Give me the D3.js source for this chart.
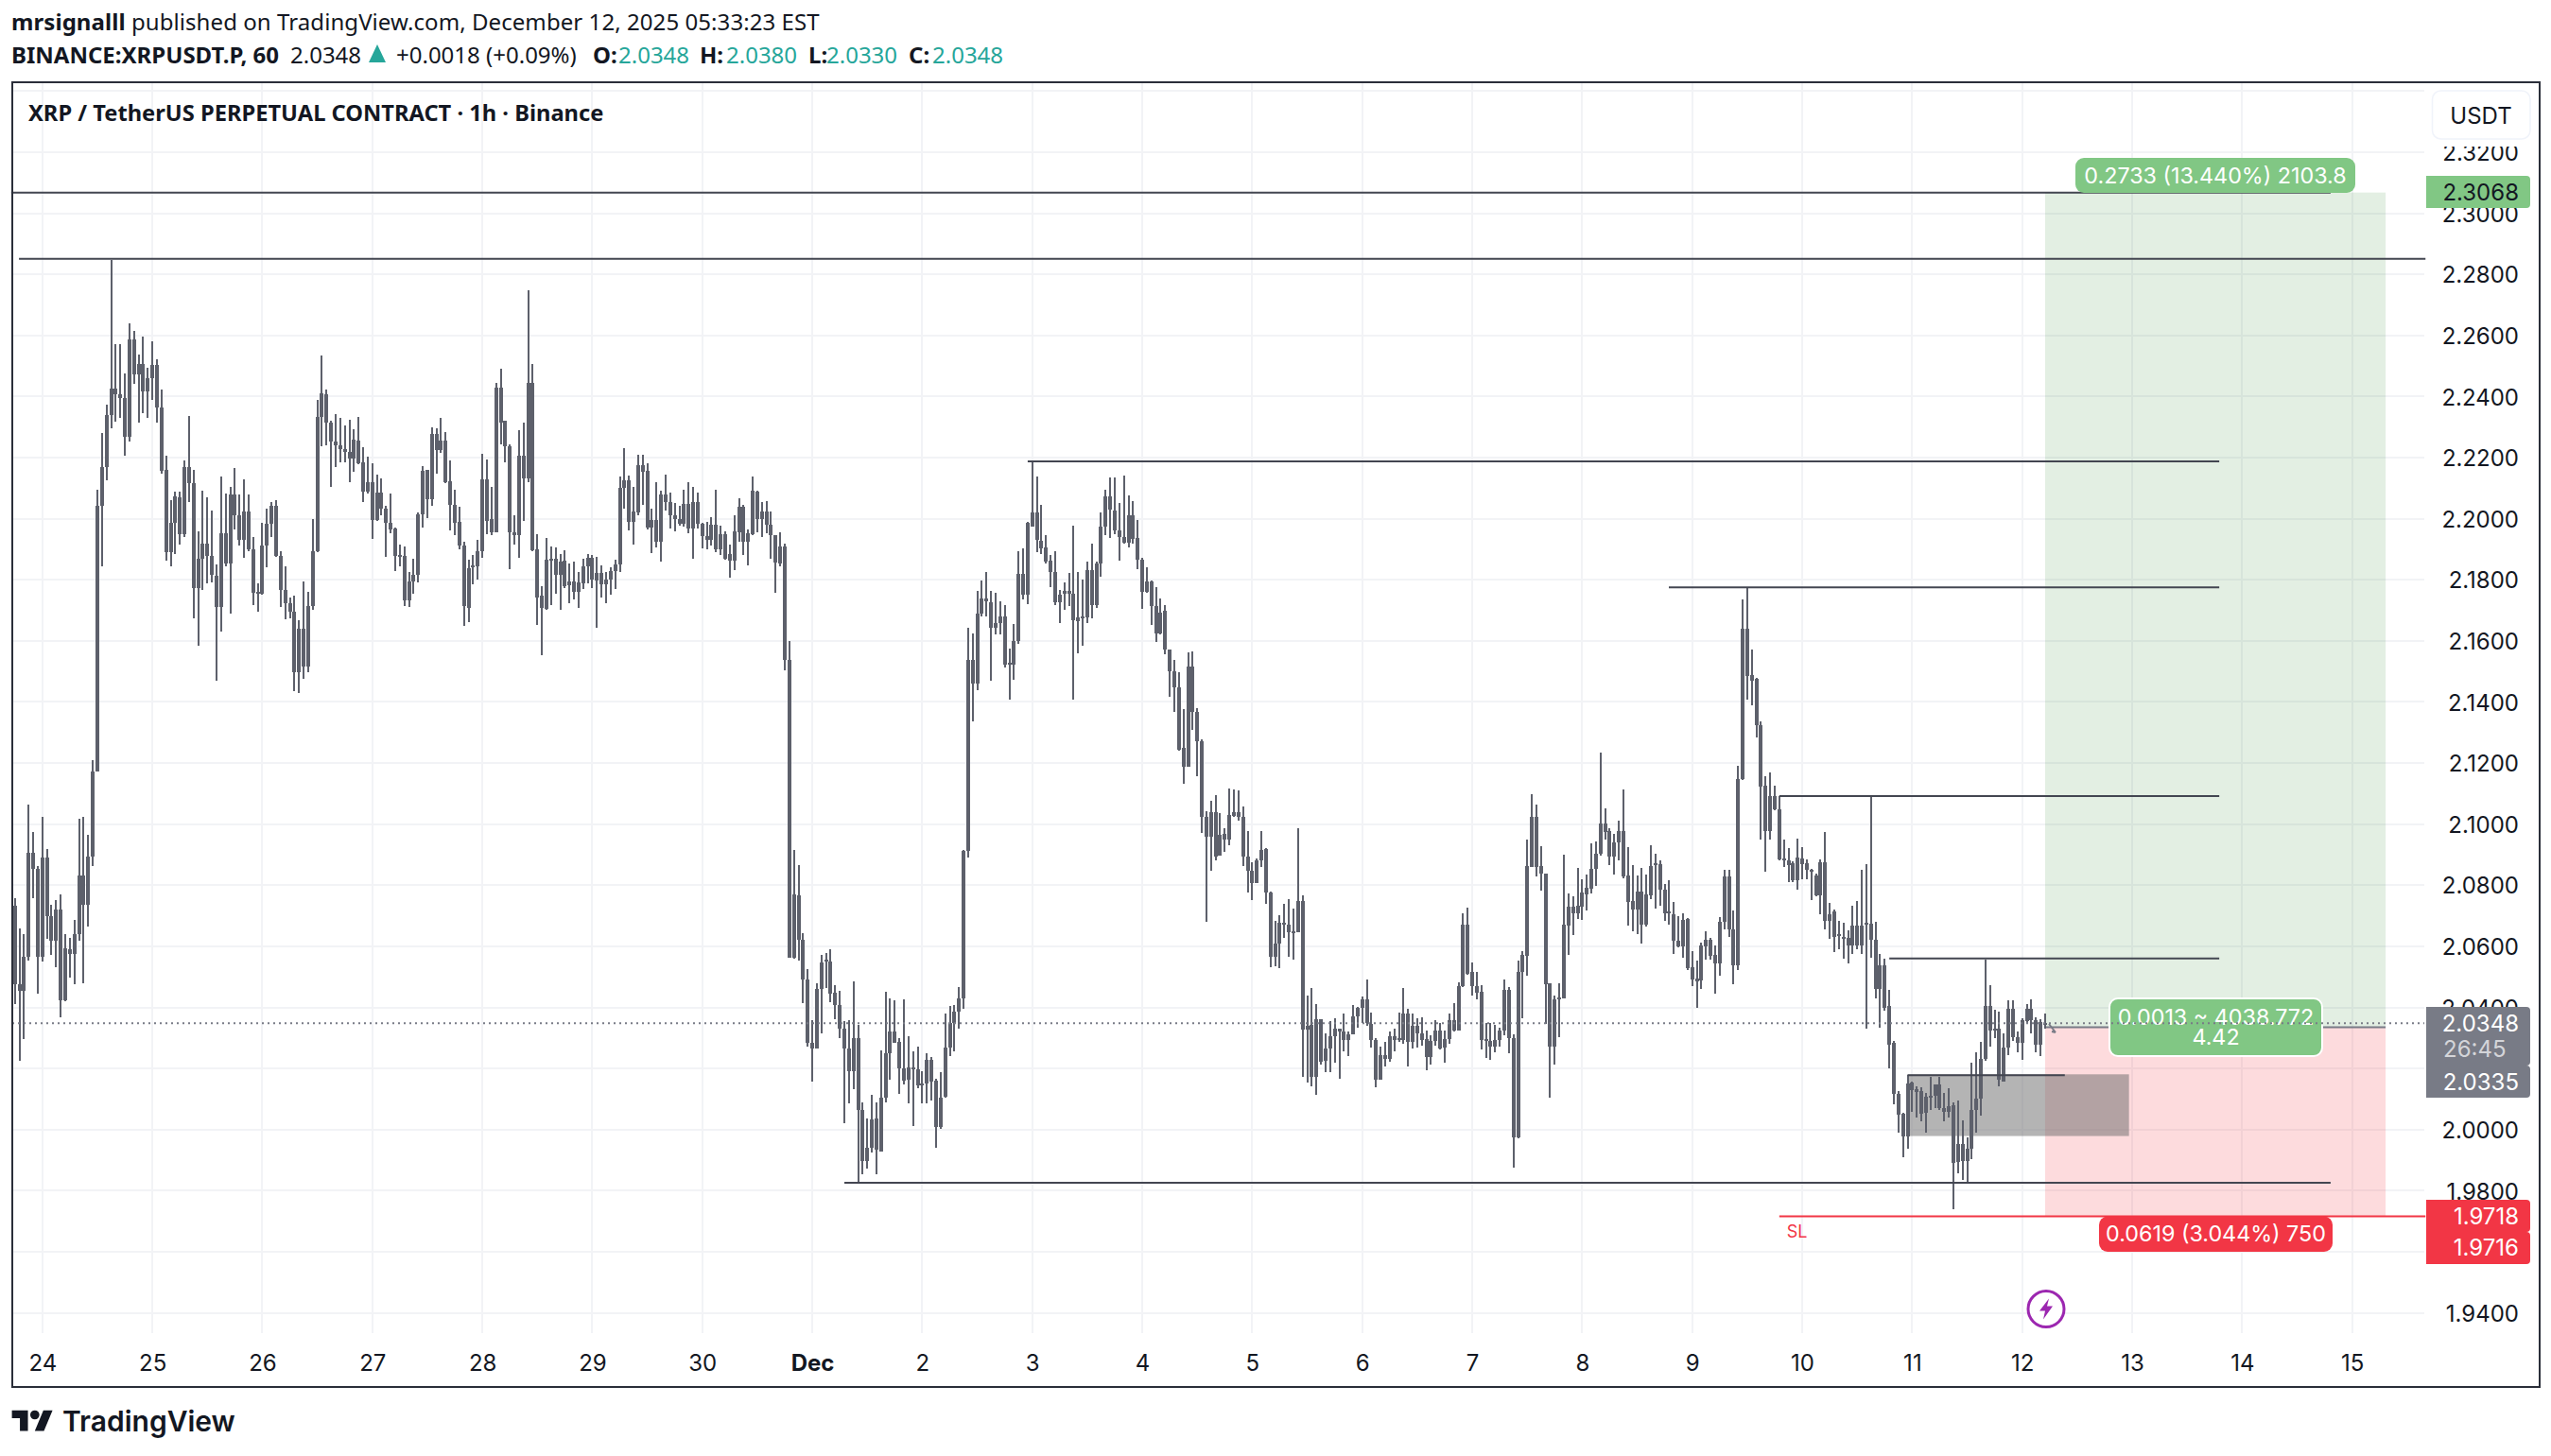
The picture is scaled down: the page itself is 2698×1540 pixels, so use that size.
<!DOCTYPE html>
<html>
<head>
<meta charset="utf-8">
<style>
  html, body { margin: 0; padding: 0; background: #fff; }
  svg { display: block; }
  .head { font-family: "Noto Sans", sans-serif; font-size: 24px; fill: #131722; }
  .axis text { font-family: Inter, sans-serif; font-size: 24px; fill: #131722; }
  .tag { font-family: Inter, sans-serif; font-size: 24px; }
  .chart-tag { font-family: Inter, sans-serif; font-size: 23.3px; }
</style>
<script src="https://cdn.jsdelivr.net/npm/d3@7"></script>
</head>
<body>
<div id="chart"></div>
<script>
// hourly candles, first one 6 hours before Nov 24 00:00
const firstBarHour = -6;

const bodyTops = [
2.0732,2.0475,2.0567,2.0905,2.0905,2.0853,2.0891,2.0891,2.0700,2.0719,
2.0719,2.0593,2.0589,2.0640,2.0832,2.0832,2.0893,2.1171,2.2043,2.2168,
2.2338,2.2425,2.2425,2.2408,2.2396,2.2587,2.2587,2.2507,2.2507,2.2460,
2.2503,2.2503,2.2364,2.2159,2.1986,2.2073,2.2069,2.2170,2.2170,2.2118,
2.1869,2.1920,2.1920,2.1878,2.1814,2.1954,2.1954,2.2080,2.2080,2.2010,
2.2024,2.2024,2.1901,2.1760,2.1913,2.1982,2.2043,2.2043,2.1878,2.1767,
2.1725,2.1697,2.1640,2.1640,2.1713,2.1895,2.2333,2.2411,2.2408,2.2316,
2.2252,2.2239,2.2229,2.2219,2.2260,2.2257,2.2186,2.2121,2.2121,2.2086,
2.2086,2.2034,2.1986,2.1968,2.1881,2.1878,2.1795,2.1816,2.2014,2.2156,
2.2159,2.2277,2.2277,2.2256,2.2256,2.2122,2.2045,2.1989,2.1912,2.1837,
2.1847,2.1893,2.2128,2.2130,2.1998,2.2430,2.2430,2.2320,2.2238,2.1955,
2.2207,2.2207,2.2445,2.2445,2.1899,2.1749,2.1865,2.1870,2.1870,2.1860,
2.1862,2.1796,2.1794,2.1792,2.1843,2.1871,2.1871,2.1823,2.1823,2.1800,
2.1829,2.1850,2.2101,2.2125,2.2125,2.2024,2.2176,2.2176,2.2156,2.1996,
2.1996,2.2079,2.2079,2.2055,2.2011,2.1998,2.2048,2.2048,2.2056,2.2055,
2.1984,2.1943,2.1980,2.1980,2.1949,2.1949,2.1885,2.1958,2.2040,2.2040,
2.1952,2.2092,2.2089,2.2023,2.2023,2.1980,2.1947,2.1909,2.1909,2.1537,
2.0771,2.0768,2.0622,2.0490,2.0283,2.0459,2.0548,2.0555,2.0550,2.0448,
2.0409,2.0329,2.0266,2.0300,2.0300,2.0063,1.9939,2.0032,2.0037,2.0104,
2.0250,2.0322,2.0322,2.0287,2.0199,2.0204,2.0204,2.0196,2.0152,2.0228,
2.0228,2.0161,2.0104,2.0270,2.0350,2.0387,2.0431,2.0912,2.1538,2.1538,
2.1688,2.1738,2.1738,2.1726,2.1659,2.1681,2.1681,2.1528,2.1600,2.1818,
2.1818,2.1986,2.2020,2.2020,2.1929,2.1906,2.1864,2.1827,2.1751,2.1765,
2.1765,2.1755,2.1676,2.1681,2.1832,2.1832,2.1852,2.1974,2.2073,2.2073,
2.2028,2.1961,2.1941,2.2010,2.2010,2.1936,2.1865,2.1795,2.1795,2.1714,
2.1693,2.1698,2.1573,2.1500,2.1449,
2.1250,2.1517,2.1517,2.1366,2.1273,2.1024,2.1038,2.1038,2.0964,2.0969,
2.1031,2.1040,2.1040,2.1025,2.0895,2.0846,2.0883,2.0917,2.0920,2.0776,
2.0609,2.0677,2.0676,2.0670,2.0649,2.0747,2.0747,2.0341,2.0342,2.0362,
2.0362,2.0265,2.0307,2.0332,2.0332,2.0322,2.0313,2.0372,2.0399,2.0425,
2.0425,2.0347,2.0293,2.0243,2.0243,2.0307,2.0307,2.0298,2.0379,2.0379,2.0339,2.0340,
2.0316,2.0297,2.0290,2.0325,2.0325,2.0296,2.0358,2.0358,2.0469,2.0670,
2.0670,2.0515,2.0469,2.0450,2.0297,2.0290,2.0294,2.0325,2.0457,2.0457,
2.0299,2.0515,2.0572,2.0863,2.1023,2.1023,2.0863,2.0837,2.0479,2.0427,
2.0434,2.0670,2.0729,2.0729,2.0732,2.0775,2.0791,2.0853,2.0902,2.1002,
2.1002,2.0978,2.0941,2.0977,2.0977,2.0832,2.0748,2.0779,2.0779,2.0770,
2.0863,2.0871,2.0868,2.0786,2.0714,2.0704,2.0617,2.0686,2.0691,2.0531,
2.0495,2.0603,2.0621,2.0621,2.0572,2.0679,2.0828,2.0828,
2.0655,2.1147,2.1641,2.1641,2.1489,2.1475,2.1323,2.1125,2.1092,2.1092,
2.1050,2.0887,2.0881,2.0871,2.0890,2.0887,2.0871,2.0851,2.0832,2.0874,
2.0874,2.0704,2.0715,2.0639,2.0632,2.0628,2.0669,2.0669,2.0669,2.0676,
2.0673,2.0623,2.0538,2.0538,2.0404,2.0283,2.0116,2.0051,2.0152,2.0155,
2.0133,2.0127,2.0107,2.0111,2.0147,2.0147,2.0069,2.0076,2.0079,1.9952,
1.9952,1.9937,2.0065,2.0100,2.0231,2.0404,2.0404,2.0330,2.0330,2.0270,
2.0394,2.0394,2.0303,2.0358,2.0397,2.0397,2.0358,2.0351,2.0350
];

const bodyBottoms = [
2.0475,2.0454,2.0454,2.0567,2.0853,2.0567,2.0567,2.0700,2.0619,2.0619,
2.0424,2.0424,2.0575,2.0575,2.0640,2.0735,2.0735,2.0893,2.1171,2.2043,
2.2168,2.2338,2.2408,2.2396,2.2269,2.2269,2.2474,2.2474,2.2417,2.2417,
2.2460,2.2364,2.2156,2.1892,2.1892,2.1986,2.1948,2.1948,2.2118,2.1774,
2.1774,2.1869,2.1878,2.1817,2.1711,2.1711,2.1855,2.1855,2.2010,2.1930,
2.1930,2.1901,2.1756,2.1755,2.1753,2.1913,2.1982,2.1878,2.1767,2.1725,
2.1697,2.1499,2.1499,2.1517,2.1517,2.1713,2.1895,2.2333,2.2316,2.2252,
2.2239,2.2229,2.2219,2.2198,2.2198,2.2182,2.2090,2.2090,2.1996,2.1996,
2.2034,2.1986,2.1965,2.1878,2.1878,2.1734,2.1734,2.1795,2.1816,2.2014,
2.2063,2.2063,2.2226,2.2226,2.2120,2.2044,2.1988,2.1911,2.1713,2.1709,
2.1841,2.1843,2.1893,2.1994,2.1957,2.1957,2.2316,2.2236,2.1955,2.1945,
2.1945,2.2133,2.2133,2.1897,2.1743,2.1707,2.1705,2.1864,2.1816,2.1816,
2.1780,2.1782,2.1762,2.1762,2.1790,2.1843,2.1800,2.1798,2.1784,2.1784,
2.1800,2.1829,2.1850,2.2101,2.1991,2.1991,2.2022,2.2155,2.1970,2.1970,
2.1926,2.1926,2.2056,2.2010,2.1998,2.1984,2.1984,2.1969,2.1969,2.1984,
2.1943,2.1932,2.1932,2.1899,2.1901,2.1868,2.1864,2.1864,2.1957,2.1926,
2.1926,2.1950,2.1998,2.1998,2.1980,2.1945,2.1856,2.1855,2.1537,2.0563,
2.0563,2.0622,2.0490,2.0283,2.0266,2.0266,2.0459,2.0550,2.0446,2.0409,
2.0329,2.0266,2.0191,2.0191,2.0065,1.9896,1.9896,1.9939,1.9934,1.9929,
2.0104,2.0250,2.0285,2.0199,2.0161,2.0164,2.0196,2.0144,2.0144,2.0152,
2.0157,2.0010,2.0010,2.0107,2.0270,2.0350,2.0387,2.0431,2.0912,2.1461,
2.1461,2.1688,2.1731,2.1642,2.1642,2.1659,2.1521,2.1523,2.1521,2.1600,
2.1751,2.1751,2.1974,2.1931,2.1902,2.1860,2.1827,2.1726,2.1728,2.1755,
2.1755,2.1667,2.1666,2.1678,2.1678,2.1718,2.1718,2.1852,2.1974,2.2030,
2.1961,2.1941,2.1922,2.1922,2.1933,2.1865,2.1760,2.1760,2.1714,2.1625,
2.1625,2.1573,2.1500,2.1449,2.1245,
2.1187,2.1187,2.1366,2.1270,2.1024,2.0960,2.0960,2.0895,2.0898,2.0950,
2.0950,2.1028,2.1024,2.0895,2.0846,2.0806,2.0806,2.0880,2.0776,2.0565,
2.0565,2.0609,2.0670,2.0646,2.0646,2.0646,2.0328,2.0328,2.0172,2.0172,
2.0221,2.0224,2.0265,2.0307,2.0322,2.0292,2.0293,2.0313,2.0372,2.0399,
2.0350,2.0292,2.0162,2.0162,2.0231,2.0231,2.0292,2.0293,2.0293,2.0288,2.0288,2.0316,
2.0294,2.0239,2.0239,2.0290,2.0265,2.0268,2.0296,2.0325,2.0325,2.0469,
2.0510,2.0469,2.0448,2.0294,2.0294,2.0273,2.0273,2.0294,2.0325,2.0299,
1.9976,1.9974,2.0515,2.0570,2.0861,2.0861,2.0837,2.0477,2.0273,2.0273,
2.0431,2.0431,2.0669,2.0709,2.0709,2.0730,2.0771,2.0789,2.0853,2.0902,
2.0973,2.0895,2.0895,2.0939,2.0830,2.0745,2.0722,2.0720,2.0671,2.0671,
2.0768,2.0868,2.0784,2.0709,2.0709,2.0617,2.0600,2.0600,2.0529,2.0493,
2.0485,2.0487,2.0601,2.0570,2.0543,2.0543,2.0679,2.0655,
2.0539,2.0539,2.1147,2.1484,2.1471,2.1323,2.1122,2.0977,2.0977,2.1049,
2.0885,2.0883,2.0867,2.0818,2.0818,2.0869,2.0851,2.0849,2.0766,2.0766,
2.0683,2.0683,2.0632,2.0634,2.0628,2.0604,2.0604,2.0604,2.0604,2.0672,
2.0622,2.0459,2.0459,2.0400,2.0279,2.0116,2.0050,1.9979,1.9979,2.0130,
2.0123,2.0051,2.0054,2.0107,2.0111,2.0069,2.0058,2.0058,1.9892,1.9895,
1.9898,1.9898,1.9937,2.0065,2.0100,2.0231,2.0325,2.0325,2.0162,2.0158,
2.0270,2.0303,2.0283,2.0283,2.0355,2.0358,2.0277,2.0277,2.0346
];

const highs = [
2.0758,2.0659,2.0641,2.1065,2.0975,2.0862,2.1023,2.0919,2.0735,2.0752,
2.0770,2.0641,2.0627,2.0688,2.1018,2.1023,2.0964,2.1209,2.2095,2.2281,
2.2373,2.2847,2.2573,2.2573,2.2476,2.2639,2.2616,2.2538,2.2597,2.2495,
2.2580,2.2521,2.2422,2.2205,2.2060,2.2090,2.2090,2.2191,2.2335,2.2159,
2.1958,2.2092,2.2069,2.2026,2.1849,2.2139,2.2083,2.2104,2.2165,2.2080,
2.2128,2.2080,2.1939,2.1788,2.1986,2.2033,2.2055,2.2060,2.1895,2.1843,
2.1743,2.1748,2.1668,2.1795,2.1760,2.1998,2.2390,2.2536,2.2422,2.2321,
2.2344,2.2330,2.2305,2.2324,2.2293,2.2333,2.2234,2.2203,2.2182,2.2144,
2.2133,2.2041,2.2081,2.1972,2.1916,2.1908,2.1826,2.1869,2.2020,2.2173,
2.2159,2.2299,2.2295,2.2330,2.2283,2.2190,2.2094,2.2040,2.1924,2.1865,
2.1881,2.1930,2.2213,2.2194,2.2104,2.2444,2.2492,2.2320,2.2244,2.2011,
2.2289,2.2314,2.2747,2.2506,2.1949,2.1780,2.1936,2.1909,2.1907,2.1885,
2.1896,2.1854,2.1860,2.1825,2.1869,2.1885,2.1881,2.1876,2.1847,2.1826,
2.1841,2.1866,2.2139,2.2231,2.2141,2.2105,2.2210,2.2209,2.2182,2.2032,
2.2120,2.2092,2.2145,2.2086,2.2051,2.2043,2.2095,2.2120,2.2104,2.2086,
2.1986,2.1990,2.2006,2.2094,2.1978,2.1958,2.1916,2.2011,2.2066,2.2046,
2.1965,2.2139,2.2093,2.2055,2.2058,2.2024,2.1947,2.1955,2.1919,2.1600,
2.0917,2.0865,2.0644,2.0527,2.0359,2.0480,2.0572,2.0577,2.0590,2.0473,
2.0453,2.0355,2.0359,2.0485,2.0342,2.0090,2.0037,2.0114,2.0090,2.0258,
2.0451,2.0429,2.0422,2.0300,2.0426,2.0305,2.0255,2.0272,2.0191,2.0250,
2.0238,2.0166,2.0188,2.0381,2.0406,2.0409,2.0466,2.0917,2.1642,2.1624,
2.1765,2.1797,2.1825,2.1765,2.1756,2.1730,2.1718,2.1575,2.1656,2.1894,
2.1902,2.1990,2.2188,2.2137,2.2045,2.1946,2.1882,2.1894,2.1768,2.1793,
2.1822,2.1978,2.1825,2.1802,2.1859,2.1919,2.1859,2.2020,2.2095,2.2134,
2.2136,2.2053,2.2141,2.2077,2.2057,2.1996,2.1872,2.1842,2.1797,2.1776,
2.1740,2.1718,2.1573,2.1537,2.1496,
2.1376,2.1561,2.1567,2.1381,2.1277,2.1044,2.1078,2.1096,2.1036,2.0987,
2.1116,2.1113,2.1111,2.1059,2.0976,2.0874,2.0887,2.0976,2.0923,2.0779,
2.0682,2.0701,2.0739,2.0756,2.0723,2.0987,2.0766,2.0439,2.0465,2.0412,
2.0362,2.0314,2.0354,2.0366,2.0332,2.0379,2.0320,2.0409,2.0403,2.0436,
2.0490,2.0382,2.0299,2.0273,2.0288,2.0320,2.0329,2.0382,2.0465,2.0394,2.0379,2.0364,
2.0368,2.0323,2.0309,2.0359,2.0350,2.0325,2.0380,2.0414,2.0481,2.0708,
2.0727,2.0547,2.0515,2.0473,2.0348,2.0350,2.0343,2.0333,2.0492,2.0467,
2.0311,2.0552,2.0585,2.0950,2.1098,2.1063,2.0928,2.0838,2.0479,2.0438,
2.0479,2.0900,2.0773,2.0764,2.0857,2.0820,2.0834,2.0936,2.0944,2.1235,
2.1052,2.0987,2.0968,2.1012,2.1114,2.0925,2.0866,2.0832,2.0857,2.0835,
2.0930,2.0902,2.0882,2.0804,2.0817,2.0746,2.0699,2.0708,2.0694,2.0585,
2.0554,2.0611,2.0650,2.0628,2.0603,2.0696,2.0851,2.0849,
2.0717,2.1191,2.1737,2.1772,2.1572,2.1479,2.1335,2.1157,2.1168,2.1125,
2.1092,2.0950,2.0922,2.0878,2.0954,2.0925,2.0885,2.0854,2.0839,2.0885,
2.0973,2.0741,2.0719,2.0683,2.0677,2.0652,2.0733,2.0748,2.0851,2.0868,
2.1092,2.0680,2.0575,2.0561,2.0456,2.0290,2.0127,2.0055,2.0180,2.0158,
2.0141,2.0138,2.0119,2.0173,2.0149,2.0173,2.0120,2.0136,2.0089,2.0094,
2.0031,1.9973,2.0220,2.0252,2.0286,2.0556,2.0473,2.0393,2.0387,2.0314,
2.0422,2.0422,2.0321,2.0365,2.0411,2.0425,2.0369,2.0360,2.0380
];

const lows = [
2.0410,2.0225,2.0297,2.0554,2.0758,2.0445,2.0549,2.0624,2.0572,2.0532,
2.0367,2.0419,2.0497,2.0475,2.0619,2.0480,2.0666,2.0862,2.1171,2.1843,
2.2125,2.2295,2.2318,2.2330,2.2205,2.2252,2.2443,2.2316,2.2347,2.2330,
2.2390,2.2316,2.2147,2.1864,2.1843,2.1885,2.1916,2.1939,2.2055,2.1673,
2.1583,2.1767,2.1788,2.1791,2.1470,2.1630,2.1843,2.1690,2.1965,2.1913,
2.1871,2.1895,2.1718,2.1697,2.1750,2.1840,2.1941,2.1875,2.1711,2.1670,
2.1673,2.1435,2.1430,2.1475,2.1496,2.1701,2.1892,2.2236,2.2239,2.2104,
2.2168,2.2186,2.2186,2.2120,2.2153,2.2177,2.2055,2.2081,2.1935,2.1994,
2.2012,2.1876,2.1954,2.1829,2.1843,2.1713,2.1710,2.1753,2.1791,2.1972,
2.2003,2.2043,2.2146,2.2216,2.2118,2.1963,2.1947,2.1901,2.1648,2.1663,
2.1784,2.1802,2.1872,2.1948,2.1945,2.1957,2.2244,2.2186,2.1836,2.1916,
2.1872,2.1994,2.2120,2.1895,2.1651,2.1552,2.1703,2.1716,2.1753,2.1702,
2.1773,2.1722,2.1736,2.1709,2.1771,2.1787,2.1774,2.1644,2.1743,2.1725,
2.1752,2.1771,2.1826,2.2034,2.1963,2.1914,2.2010,2.2046,2.1965,2.1886,
2.1905,2.1861,2.2027,2.1969,2.1960,2.1976,2.1973,2.1954,2.1870,2.1967,
2.1903,2.1900,2.1911,2.1891,2.1880,2.1866,2.1808,2.1833,2.1926,2.1880,
2.1846,2.1945,2.1956,2.1941,2.1953,2.1870,2.1759,2.1845,2.1505,2.0563,
2.0560,2.0552,2.0414,2.0272,2.0156,2.0266,2.0315,2.0463,2.0417,2.0362,
2.0300,2.0020,2.0087,2.0132,1.9827,1.9855,1.9872,1.9926,1.9855,1.9929,
2.0090,2.0162,2.0283,2.0117,2.0147,2.0085,2.0013,2.0137,2.0085,2.0085,
2.0094,1.9939,2.0003,2.0104,2.0241,2.0255,2.0332,2.0396,2.0892,2.1337,
2.1438,2.1681,2.1681,2.1471,2.1622,2.1622,2.1513,2.1407,2.1474,2.1589,
2.1735,2.1721,2.1973,2.1892,2.1884,2.1855,2.1775,2.1718,2.1659,2.1701,
2.1713,2.1407,2.1558,2.1584,2.1657,2.1674,2.1709,2.1810,2.1946,2.1936,
2.1949,2.1864,2.1919,2.1906,2.1919,2.1835,2.1706,2.1756,2.1651,2.1597,
2.1622,2.1555,2.1416,2.1369,2.1240,
2.1132,2.1187,2.1310,2.1158,2.0972,2.0680,2.0847,2.0880,2.0898,2.0910,
2.0932,2.1024,2.1010,2.0862,2.0776,2.0751,2.0806,2.0861,2.0739,2.0532,
2.0535,2.0528,2.0628,2.0565,2.0557,2.0646,2.0172,2.0153,2.0142,2.0113,
2.0213,2.0188,2.0187,2.0218,2.0165,2.0256,2.0242,2.0311,2.0335,2.0350,
2.0339,2.0270,2.0139,2.0162,2.0206,2.0221,2.0255,2.0288,2.0280,2.0206,2.0265,2.0268,
2.0275,2.0193,2.0214,2.0275,2.0263,2.0219,2.0281,2.0322,2.0325,2.0467,
2.0508,2.0440,2.0428,2.0263,2.0236,2.0227,2.0254,2.0273,2.0309,2.0251,
1.9877,1.9971,2.0366,2.0505,2.0861,2.0830,2.0781,2.0347,2.0106,2.0214,
2.0304,2.0430,2.0572,2.0636,2.0691,2.0686,2.0717,2.0774,2.0799,2.0896,
2.0951,2.0867,2.0836,2.0882,2.0824,2.0669,2.0648,2.0641,2.0610,2.0666,
2.0755,2.0725,2.0734,2.0684,2.0672,2.0576,2.0598,2.0562,2.0521,2.0471,
2.0400,2.0462,2.0558,2.0557,2.0446,2.0505,2.0657,2.0632,
2.0477,2.0521,2.1146,2.1408,2.1388,2.1283,2.0951,2.0843,2.0951,2.1046,
2.0881,2.0860,2.0809,2.0811,2.0784,2.0821,2.0821,2.0753,2.0763,2.0705,
2.0657,2.0625,2.0581,2.0590,2.0559,2.0545,2.0576,2.0590,2.0576,2.0329,
2.0563,2.0431,2.0335,2.0390,2.0199,2.0083,1.9989,1.9910,1.9937,2.0058,
2.0040,2.0026,1.9989,2.0065,2.0072,2.0064,2.0026,2.0040,1.9740,1.9856,
1.9834,1.9826,1.9903,1.9989,2.0047,2.0224,2.0271,2.0300,2.0141,2.0158,
2.0245,2.0289,2.0254,2.0227,2.0348,2.0314,2.0254,2.0242,2.0330
];

const dayLabels = ["24","25","26","27","28","29","30","Dec","2","3","4","5","6","7","8","9","10","11","12","13","14","15"];
const priceTicks = [1.94,1.96,1.98,2.00,2.02,2.04,2.06,2.08,2.10,2.12,2.14,2.16,2.18,2.20,2.22,2.24,2.26,2.28,2.30,2.32];
const gridOnlyPrice = 2.34;

// drawn levels: price, from hour, to hour
const levelPrices = [2.3068, 2.2851, 2.2188, 2.1775, 2.1092, 2.0560, 2.0178, 1.9826];
const levelFrom   = [-6.8, -5.1, 215, 354.9, 379, 403, 407, 175];
const levelTo     = [499.3, 520, 475, 475, 475, 475, 441.3, 499.3];

// long position tool
const targetPrice = 2.3068, entryPrice = 2.0335, stopPrice = 1.9716, lastPrice = 2.0348;
const positionFrom = 437, positionTo = 511.3;
const slFrom = 379, slTo = 520;
const zonePrices = [2.0181, 1.9979], zoneHours = [407, 455.3];

const width = 2698, height = 1540;
const pane = { left: 13, right: 2564, top: 88, bottom: 1410 };
const candleColor = "#5d606b", lineColor = "#434651", gridColor = "#f2f3f6";
const green = "#81c784", red = "#f23645", slate = "#787b86", teal = "#26a69a";

const x = d3.scaleLinear().domain([0, 504]).range([44.8, 2487.7]);
const y = d3.scaleLinear().domain([1.94, 2.32]).range([1388.6, 161]);

const svg = d3.select("#chart").append("svg").attr("width", width).attr("height", height);
svg.append("rect").attr("width", width).attr("height", height).attr("fill", "#fff");

// grid
const grid = svg.append("g").attr("stroke", gridColor).attr("stroke-width", 2).attr("shape-rendering", "crispEdges");
grid.selectAll(".h").data(priceTicks.concat(gridOnlyPrice)).enter().append("line")
  .attr("x1", pane.left).attr("x2", pane.right).attr("y1", d => y(d)).attr("y2", d => y(d));
grid.selectAll(".v").data(dayLabels).enter().append("line")
  .attr("x1", (d, i) => x(i * 24)).attr("x2", (d, i) => x(i * 24)).attr("y1", pane.top).attr("y2", pane.bottom);

// position boxes
svg.append("rect").attr("x", x(positionFrom)).attr("width", x(positionTo) - x(positionFrom))
  .attr("y", y(targetPrice)).attr("height", y(entryPrice) - y(targetPrice)).attr("fill", "rgba(56,142,60,0.14)");
svg.append("rect").attr("x", x(positionFrom)).attr("width", x(positionTo) - x(positionFrom))
  .attr("y", y(entryPrice)).attr("height", y(stopPrice) - y(entryPrice)).attr("fill", "rgba(242,54,69,0.18)");
svg.append("line").attr("x1", x(positionFrom)).attr("x2", x(positionTo)).attr("y1", y(entryPrice)).attr("y2", y(entryPrice))
  .attr("stroke", slate).attr("stroke-width", 2);

// gray zone
svg.append("rect").attr("x", x(zoneHours[0])).attr("width", x(zoneHours[1]) - x(zoneHours[0]))
  .attr("y", y(zonePrices[0])).attr("height", y(zonePrices[1]) - y(zonePrices[0]))
  .attr("fill", "rgba(105,105,105,0.5)");

// candles
const candles = svg.append("g").attr("fill", candleColor).attr("shape-rendering", "crispEdges");
const barX = i => Math.round(x(firstBarHour + i));
candles.selectAll(".wick").data(highs).enter().append("rect")
  .attr("x", (d, i) => barX(i) - 1).attr("width", 2)
  .attr("y", d => y(d)).attr("height", (d, i) => y(lows[i]) - y(d));
candles.selectAll(".body").data(bodyTops).enter().append("rect")
  .attr("x", (d, i) => barX(i) - 2).attr("width", 4)
  .attr("y", d => y(d)).attr("height", (d, i) => Math.max(2, y(bodyBottoms[i]) - y(d)));

// level lines
svg.append("g").attr("stroke", lineColor).attr("stroke-width", 2)
  .selectAll("line").data(levelPrices).enter().append("line")
  .attr("x1", (d, i) => x(levelFrom[i])).attr("x2", (d, i) => x(levelTo[i]))
  .attr("y1", d => y(d)).attr("y2", d => y(d));

// stop level
svg.append("line").attr("x1", x(slFrom)).attr("x2", x(slTo)).attr("y1", y(stopPrice)).attr("y2", y(stopPrice))
  .attr("stroke", red).attr("stroke-width", 2);
svg.append("text").attr("x", x(slFrom) + 8).attr("y", y(stopPrice) + 22).attr("fill", red)
  .attr("font-family", "Inter, sans-serif").attr("font-size", 18).text("SL");

// small arrow tail of the position tool
svg.append("path").attr("d", "M2167 1083 L2174 1092 M2174 1092 L2170 1091").attr("stroke", slate).attr("stroke-width", 2).attr("fill", "none");

// axes
const yAxis = d3.axisLeft(y).tickValues(priceTicks).tickFormat(d3.format(".4f")).tickSize(0).tickPadding(0);
svg.append("g").attr("class", "axis").attr("transform", "translate(2664,0)").call(yAxis).call(g => g.select(".domain").remove());
svg.selectAll(".axis text").attr("dy", "0.36em");

const xAxis = d3.axisBottom(x).tickValues(dayLabels.map((d, i) => i * 24)).tickFormat((d, i) => dayLabels[i]).tickSize(0).tickPadding(0);
svg.append("g").attr("class", "axis").attr("transform", "translate(0,1432.5)").call(xAxis).call(g => g.select(".domain").remove())
  .selectAll("text").style("font-weight", (d, i) => dayLabels[i] === "Dec" ? 700 : 400);

// covers the top of the scale under the currency button
svg.append("rect").attr("x", pane.right + 1).attr("y", pane.top).attr("width", 2686 - pane.right - 2).attr("height", 155 - pane.top).attr("fill", "#fff");
svg.append("rect").attr("x", 2572.5).attr("y", 96).attr("width", 103.5).attr("height", 51).attr("rx", 9)
  .attr("fill", "#fff").attr("stroke", "#f0f3fa").attr("stroke-width", 1.5);
svg.append("text").attr("class", "tag").attr("x", 2624).attr("y", 122).attr("dy", "0.36em").attr("text-anchor", "middle").attr("fill", "#131722").text("USDT");

// tags on the chart
function chartTag(x0, x1, y0, y1, fill, lines, border) {
  const r = svg.append("rect").attr("x", x0).attr("y", y0).attr("width", x1 - x0).attr("height", y1 - y0).attr("rx", 9).attr("fill", fill);
  if (border) r.attr("stroke", "#fff").attr("stroke-width", 2);
  lines.forEach(l => {
    svg.append("text").attr("class", "chart-tag").attr("x", (x0 + x1) / 2).attr("y", l[1]).attr("dy", "0.36em")
      .attr("text-anchor", "middle").attr("fill", "#fff").text(l[0]);
  });
}
chartTag(2195, 2491, 167, 204, green, [["0.2733 (13.440%) 2103.8", 185.5]]);
chartTag(2231, 2456, 1056, 1117, green, [["0.0013 ~ 4038.772", 1075.5], ["4.42", 1097]], true);
chartTag(2220, 2467, 1286.5, 1324, red, [["0.0619 (3.044%) 750", 1305]]);

// dotted last price line, it runs over the entry tag
svg.append("line").attr("x1", pane.left).attr("x2", pane.right).attr("y1", y(lastPrice)).attr("y2", y(lastPrice))
  .attr("stroke", slate).attr("stroke-width", 2).attr("stroke-dasharray", "2 4");

// price scale tags, square on the left
function scaleTag(y0, y1, fill) {
  svg.append("rect").attr("x", 2566).attr("y", y0).attr("width", 110).attr("height", y1 - y0).attr("rx", 4).attr("fill", fill);
  svg.append("rect").attr("x", 2566).attr("y", y0).attr("width", 20).attr("height", y1 - y0).attr("fill", fill);
}
function scaleText(t, cy, fill, anchorX, anchor) {
  svg.append("text").attr("class", "tag").attr("x", anchorX || 2664).attr("y", cy).attr("dy", "0.36em")
    .attr("text-anchor", anchor || "end").attr("fill", fill).text(t);
}
scaleTag(186, 220, green);
scaleText(d3.format(".4f")(targetPrice), 203.5, "#131722");
scaleTag(1065, 1127, slate);
scaleText(d3.format(".4f")(lastPrice), 1082, "#fff");
scaleText("26:45", 1109, "rgba(255,255,255,0.7)", 2584, "start");
scaleTag(1127, 1161, slate);
scaleText(d3.format(".4f")(entryPrice), 1144, "#fff");
scaleTag(1269, 1303, red);
scaleText("1.9718", 1286, "#fff");
scaleTag(1303, 1337, red);
scaleText(d3.format(".4f")(stopPrice), 1319.5, "#fff");

// lightning marker
const bolt = svg.append("g").attr("transform", "translate(2164,1384.6)");
bolt.append("circle").attr("r", 19).attr("fill", "#fff").attr("stroke", "#9c27b0").attr("stroke-width", 3);
bolt.append("path").attr("d", "M3,-11 L-7,2 L-1,2 L-3,11 L7,-3 L1,-3 Z").attr("fill", "#9c27b0");

// frame
svg.append("rect").attr("x", 13).attr("y", 87).attr("width", 2673).attr("height", 1380)
  .attr("fill", "none").attr("stroke", "#2a2e39").attr("stroke-width", 2).attr("shape-rendering", "crispEdges");

// header
const head1 = svg.append("text").attr("class", "head").attr("x", 12).attr("y", 32).style("letter-spacing", "0.07px");
head1.append("tspan").style("font-weight", 700).text("mrsignalll");
head1.append("tspan").text(" published on TradingView.com, December 12, 2025 05:33:23 EST");

function headText(t, px, bold, fill) {
  svg.append("text").attr("class", "head").attr("x", px).attr("y", 66.5)
    .style("font-weight", bold ? 700 : 400).style("fill", fill || "#131722").text(t);
}
headText("BINANCE:XRPUSDT.P, 60", 12, true);
headText("2.0348", 307, false);
svg.append("path").attr("d", "M390 66 L399 47 L408 66 Z").attr("fill", teal);
headText("+0.0018 (+0.09%)", 419, false);
headText("O:", 627, true); headText("2.0348", 654, false, teal);
headText("H:", 740, true); headText("2.0380", 768, false, teal);
headText("L:", 855, true); headText("2.0330", 874, false, teal);
headText("C:", 961, true); headText("2.0348", 986, false, teal);

svg.append("text").attr("class", "head").attr("x", 30).attr("y", 128).style("font-weight", 700).style("font-size", "23.7px")
  .text("XRP / TetherUS PERPETUAL CONTRACT · 1h · Binance");

// TradingView logo
svg.append("path").attr("transform", "translate(12.6,1486.8) scale(1.21)")
  .attr("d", "M14 22H7V11H0V4h14v18zM28 22h-8l7.5-18h8L28 22z").attr("fill", "#131722");
svg.append("circle").attr("cx", 12.6 + 20 * 1.21).attr("cy", 1486.8 + 8 * 1.21).attr("r", 4 * 1.21).attr("fill", "#131722");
svg.append("text").attr("x", 66).attr("y", 1514).attr("font-family", "Inter, sans-serif").attr("font-size", 30)
  .attr("font-weight", 600).attr("fill", "#131722").text("TradingView");
</script>
</body>
</html>
